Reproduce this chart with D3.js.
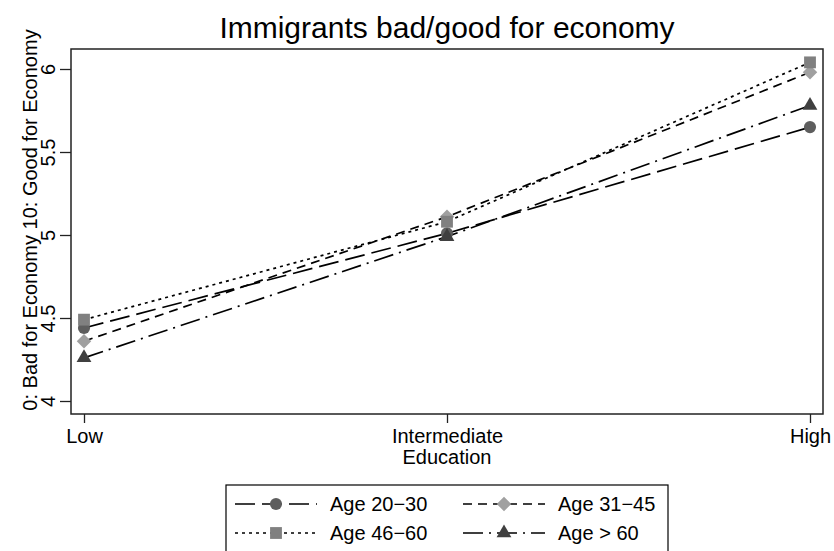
<!DOCTYPE html>
<html>
<head>
<meta charset="utf-8">
<script src="https://cdn.jsdelivr.net/npm/d3@7"></script>
<style>
  body { margin: 0; background: #fff; }
  svg text { font-family: "Liberation Sans", Arial, sans-serif; fill: #000; }
</style>
</head>
<body>
<div id="chart"></div>
<script>
// ----------------- DATA -----------------
const education = ["Low", "Intermediate", "High"];
const yTicks = [4, 4.5, 5, 5.5, 6];

const age2030 = [4.44, 5.01, 5.65];
const age3145 = [4.36, 5.11, 5.98];
const age4660 = [4.49, 5.08, 6.04];
const ageOver60 = [4.26, 4.99, 5.78];

const seriesNames = ["Age 20\u221230", "Age 31\u221245", "Age 46\u221260", "Age > 60"];

// styles per series (stata s2mono look)
const series = [
    {name: seriesNames[0], values: age2030,   color: "#5e5e5e", dash: "20,7",       symbol: d3.symbolCircle,   size: 115, rot: 0},
    {name: seriesNames[1], values: age3145,   color: "#a0a0a0", dash: "9,6",        symbol: d3.symbolSquare,   size: 105, rot: 45},
    {name: seriesNames[2], values: age4660,   color: "#808080", dash: "3,4",        symbol: d3.symbolSquare,   size: 140, rot: 0},
    {name: seriesNames[3], values: ageOver60, color: "#404040", dash: "20,6,2,6",   symbol: d3.symbolTriangle, size: 95,  rot: 0}
];

const width = 834, height = 551;
const box = {left: 71, right: 823, top: 49, bottom: 414};

const svg = d3.select("#chart").append("svg")
    .attr("width", width)
    .attr("height", height);

const x = d3.scalePoint().domain(education).range([84, 810]);
const y = d3.scaleLinear().domain([4, 6]).range([401, 69]);

// title
svg.append("text")
    .attr("x", 447).attr("y", 38)
    .attr("text-anchor", "middle")
    .style("font-size", "30px")
    .text("Immigrants bad/good for economy");

// plot region frame
svg.append("rect")
    .attr("x", box.left).attr("y", box.top)
    .attr("width", box.right - box.left).attr("height", box.bottom - box.top)
    .attr("fill", "none").attr("stroke", "#222").attr("stroke-width", 1.5);

// y axis
const yAxis = svg.append("g")
    .attr("transform", `translate(${box.left},0)`)
    .call(d3.axisLeft(y).tickValues(yTicks).tickSize(11).tickFormat(d3.format("")));
yAxis.select(".domain").remove();
yAxis.selectAll(".tick line").attr("stroke", "#222").attr("stroke-width", 1.3);
yAxis.selectAll(".tick text")
    .attr("x", null).attr("dy", null)
    .attr("transform", "translate(-16,0) rotate(-90)")
    .attr("text-anchor", "middle")
    .style("font-size", "20px")
    .attr("fill", "#000");

// x axis
const xAxis = svg.append("g")
    .attr("transform", `translate(0,${box.bottom})`)
    .call(d3.axisBottom(x).tickSize(9).tickPadding(0));
xAxis.select(".domain").remove();
xAxis.selectAll(".tick line").attr("stroke", "#222").attr("stroke-width", 1.3);
xAxis.selectAll(".tick text")
    .attr("dy", null).attr("y", 29)
    .style("font-size", "20px")
    .attr("fill", "#000");

// axis titles
svg.append("text")
    .attr("x", 447).attr("y", 464)
    .attr("text-anchor", "middle")
    .style("font-size", "20px")
    .text("Education");

svg.append("text")
    .attr("transform", "translate(37,220) rotate(-90)")
    .attr("text-anchor", "middle")
    .style("font-size", "20px")
    .text("0: Bad for Economy 10: Good for Economy");

// lines
const line = d3.line()
    .x((d, i) => x(education[i]))
    .y(d => y(d));

series.forEach(s => {
    svg.append("path")
        .datum(s.values)
        .attr("d", line)
        .attr("fill", "none")
        .attr("stroke", "#000")
        .attr("stroke-width", 1.7)
        .attr("stroke-dasharray", s.dash);
});

// markers (drawn after lines, in series order)
series.forEach(s => {
    svg.selectAll(null)
        .data(s.values)
        .enter().append("path")
        .attr("d", d3.symbol().type(s.symbol).size(s.size))
        .attr("transform", (d, i) => `translate(${x(education[i])},${y(d)}) rotate(${s.rot})`)
        .attr("fill", s.color);
});

// ----------------- LEGEND -----------------
const legend = svg.append("g");
legend.append("rect")
    .attr("x", 226).attr("y", 485)
    .attr("width", 442).attr("height", 75)
    .attr("fill", "#fff").attr("stroke", "#000").attr("stroke-width", 1.2);

const legCols = [235, 463];
const legRows = [504, 533];

series.forEach((s, i) => {
    const lx = legCols[i % 2];
    const ly = legRows[Math.floor(i / 2)];
    legend.append("line")
        .attr("x1", lx).attr("x2", lx + 82)
        .attr("y1", ly).attr("y2", ly)
        .attr("stroke", "#000").attr("stroke-width", 1.7)
        .attr("stroke-dasharray", s.dash);
    legend.append("path")
        .attr("d", d3.symbol().type(s.symbol).size(s.size))
        .attr("transform", `translate(${lx + 41},${ly}) rotate(${s.rot})`)
        .attr("fill", s.color);
    legend.append("text")
        .attr("x", lx + 95).attr("y", ly + 7)
        .style("font-size", "20px")
        .text(s.name);
});
</script>
</body>
</html>
